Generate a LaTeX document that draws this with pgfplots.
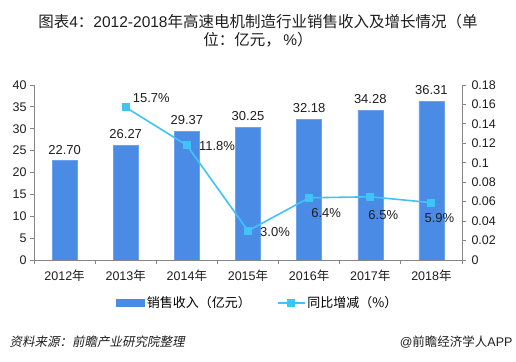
\documentclass[border=0pt]{standalone}
\usepackage{fontspec}
\setmainfont{Liberation Sans}
\newfontfamily\cjk{Noto Sans CJK SC}
\newfontfamily\cjkit[FakeSlant=0.2]{Noto Sans CJK SC}
\usepackage{pgfplots}
\pgfplotsset{compat=1.18}
\definecolor{barblue}{RGB}{74,139,230}
\definecolor{lineblue}{RGB}{64,196,248}
\definecolor{axgray}{RGB}{134,134,134}
\definecolor{txt}{RGB}{30,30,30}
\begin{document}
\begin{tikzpicture}
\path[use as bounding box] (0,0) rectangle (516pt,361pt);
% title
\node[align=center, font=\fontsize{15.5}{20}\selectfont, text=txt] at (258pt,330pt)
  {{\cjk 图表}4{\cjk ：}2012-2018{\cjk 年高速电机制造行业销售收入及增长情况（单}\\[-2pt]{\cjk 位：亿元，}\,\%{\cjk ）}};
\begin{axis}[
  at={(34pt,101pt)}, anchor=south west,
  scale only axis, width=428pt, height=175pt,
  xmin=-0.5, xmax=6.5, ymin=0, ymax=40,
  ytick={0,5,...,40},
  xtick={-0.5,0.5,...,6.5},
  x tick label as interval,
  xticklabels={2012{\cjk 年},2013{\cjk 年},2014{\cjk 年},2015{\cjk 年},2016{\cjk 年},2017{\cjk 年},2018{\cjk 年}},
  axis x line*=bottom, axis y line*=left,
  axis line style={draw=axgray, line width=0.8pt},
  x axis line style={-}, y axis line style={-},
  tick style={draw=axgray, line width=0.8pt},
  major tick length=4pt,
  tick align=outside,
  ticklabel style={font=\fontsize{12.5}{14}\selectfont, text=txt},
  /pgf/number format/assume math mode=true,
  xticklabel style={yshift=-2pt},
  ybar, bar width=25pt,
  nodes near coords,
  every node near coord/.append style={font=\fontsize{13}{15}\selectfont, text=txt, anchor=south, yshift=3pt, /pgf/number format/fixed, /pgf/number format/fixed zerofill, /pgf/number format/precision=2},
  legend style={at={(0.523,-0.246)}, anchor=center, draw=none, legend columns=2, font=\fontsize{13}{15}\selectfont, /tikz/every even column/.append style={column sep=24pt}},
  legend cell align=left,
]
\addplot[fill=barblue, draw=barblue!80!white, area legend,
  legend image code/.code={\fill[barblue] (0pt,-3.5pt) rectangle (28pt,3.5pt);}]
  coordinates {(0,22.70) (1,26.27) (2,29.37) (3,30.25) (4,32.18) (5,34.28) (6,36.31)};
\addlegendentry{\cjk 销售收入（亿元）}
\addlegendimage{lineblue, line width=1.6pt,
  legend image code/.code={\draw[lineblue, line width=1.6pt] (0pt,0pt) -- (27pt,0pt); \fill[lineblue] (10pt,-3.5pt) rectangle (17pt,3.5pt);}}
\addlegendentry{\cjk 同比增减（\%）}
\end{axis}
\begin{axis}[
  at={(34pt,101pt)}, anchor=south west,
  scale only axis, width=428pt, height=175pt,
  xmin=-0.5, xmax=6.5, ymin=0, ymax=0.18,
  ytick={0,0.02,0.04,0.06,0.08,0.1,0.12,0.14,0.16,0.18},
  axis x line=none, axis y line*=right,
  axis line style={draw=axgray, line width=0.8pt},
  y axis line style={-},
  tick style={draw=axgray, line width=0.8pt},
  major tick length=4pt,
  tick align=outside,
  ticklabel style={font=\fontsize{12.5}{14}\selectfont, text=txt},
  /pgf/number format/assume math mode=true,
  yticklabel style={/pgf/number format/fixed, /pgf/number format/precision=2, xshift=2pt},
]
\addplot[lineblue, line width=1.6pt, mark=square*, mark size=3.2pt, mark options={fill=lineblue, draw=lineblue}]
  coordinates {(1,0.157) (2,0.118) (3,0.030) (4,0.064) (5,0.065) (6,0.059)};
\begin{scope}[every node/.style={font=\fontsize{13}{15}\selectfont, text=txt, anchor=west, inner sep=0pt}]
\node[xshift=7pt, yshift=9pt] at (axis cs:1,0.157) {15.7\%};
\node[xshift=12pt, yshift=-1pt] at (axis cs:2,0.118) {11.8\%};
\node[xshift=12pt, yshift=-1pt] at (axis cs:3,0.030) {3.0\%};
\node[xshift=2pt, yshift=-15pt] at (axis cs:4,0.064) {6.4\%};
\node[xshift=-2pt, yshift=-18pt] at (axis cs:5,0.065) {6.5\%};
\node[xshift=-7pt, yshift=-15pt] at (axis cs:6,0.059) {5.9\%};
\end{scope}
\end{axis}
% footer
\node[anchor=west, font=\fontsize{12.5}{14}\selectfont, text=txt] at (6pt,19pt) {\cjkit 资料来源：前瞻产业研究院整理};
\node[anchor=east, font=\fontsize{12.5}{14}\selectfont, text=txt] at (516pt,19pt) {@{\cjk 前瞻经济学人}APP};
\end{tikzpicture}
\end{document}
